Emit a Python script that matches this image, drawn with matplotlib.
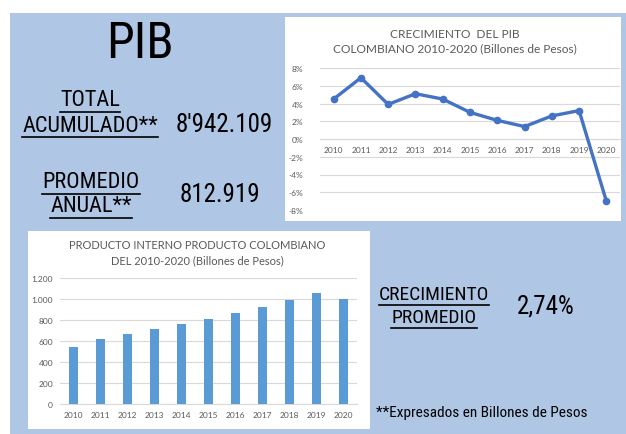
import matplotlib.pyplot as plt
import matplotlib.patches as mpatches
from matplotlib.lines import Line2D
from matplotlib import font_manager
from matplotlib.font_manager import FontProperties
from matplotlib.ticker import FuncFormatter

# data
years = ['2010', '2011', '2012', '2013', '2014', '2015', '2016', '2017', '2018', '2019', '2020']
growth_pct = [4.5, 6.9, 3.9, 5.1, 4.5, 3.0, 2.1, 1.4, 2.6, 3.2, -7.0]
pib_billones = [545, 615, 665, 712, 760, 805, 865, 920, 988, 1060, 998]

growth_ticks = [-8, -6, -4, -2, 0, 2, 4, 6, 8]
pib_ticks = [0, 200, 400, 600, 800, 1000, 1200]

total_acumulado = "8'942.109"
promedio_anual = "812.919"
crecimiento_promedio = "2,74%"

W, H = 626, 435
BLUE_BG = '#afc6e4'
GREY_TXT = '#595959'
GRID = '#d9d9d9'
CHART_FONT = 'Lato'

# look for a narrow face for the hand-lettered headings
narrow_path = None
for key in ['sansnarrow-regular', 'robotocondensed-regular', 'dejavusanscondensed.ttf',
            'notosans-condensed.ttf', 'notosans-condensedmedium', 'condensed', 'narrow']:
    for f in font_manager.fontManager.ttflist:
        if key in f.fname.lower().replace(' ', '').replace('_', '-') and 'bold' not in f.fname.lower() \
                and 'italic' not in f.fname.lower() and 'oblique' not in f.fname.lower():
            narrow_path = f.fname
            break
    if narrow_path:
        break


def nfont(size):
    if narrow_path:
        return FontProperties(fname=narrow_path, size=size)
    return FontProperties(family='DejaVu Sans', size=size)


def fx(px):
    return px / W


def fy(py):
    return 1 - py / H


def box(x0, y0, x1, y1):
    # pixel box (top-left origin) -> figure rect
    return [fx(x0), fy(y1), fx(x1) - fx(x0), fy(y0) - fy(y1)]


fig = plt.figure(figsize=(W / 100, H / 100), dpi=100)
fig.patch.set_facecolor('white')

# background panels
fig.patches.append(mpatches.Rectangle((fx(10), 0), 1 - fx(10), fy(14), transform=fig.transFigure,
                                      facecolor=BLUE_BG, edgecolor='none', zorder=-3))
fig.patches.append(mpatches.Rectangle((fx(285), fy(222)), fx(621) - fx(285), fy(18) - fy(222),
                                      transform=fig.transFigure, facecolor='white', edgecolor='none', zorder=-2))
fig.patches.append(mpatches.Rectangle((fx(28), fy(430)), fx(370) - fx(28), fy(232) - fy(430),
                                      transform=fig.transFigure, facecolor='white', edgecolor='none', zorder=-2))

#-----------------------------------------------------------------------------------------------------------
# line chart: crecimiento del PIB
ax1 = fig.add_axes(box(320, 69, 620, 211))
ax1.set_facecolor('none')
x = range(len(years))
ax1.plot(x, growth_pct, color='#4472c4', lw=2.4, marker='o', ms=4.5, zorder=3, clip_on=False)
ax1.set_xlim(-0.5, len(years) - 0.5)
ax1.set_ylim(-8, 8)
ax1.set_yticks(growth_ticks)
ax1.yaxis.set_major_formatter(FuncFormatter(lambda v, p: f'{v:.0f}%'))
ax1.set_xticks(list(x))
ax1.set_xticklabels(years)
ax1.grid(axis='y', color=GRID, lw=0.8)
ax1.set_axisbelow(True)
for s in ['top', 'right', 'left']:
    ax1.spines[s].set_visible(False)
ax1.spines['bottom'].set_position(('data', 0))
ax1.spines['bottom'].set_color(GRID)
ax1.tick_params(length=0, labelsize=6, labelcolor=GREY_TXT)
ax1.tick_params(axis='x', pad=5)
ax1.tick_params(axis='y', pad=12)
for lab in ax1.get_xticklabels() + ax1.get_yticklabels():
    lab.set_fontfamily(CHART_FONT)

fig.text(fx(455), fy(34), 'CRECIMIENTO  DEL PIB', ha='center', va='center',
         fontsize=8.6, color=GREY_TXT, family=CHART_FONT)
fig.text(fx(455), fy(49), 'COLOMBIANO 2010-2020 (Billones de Pesos)', ha='center', va='center',
         fontsize=8.6, color=GREY_TXT, family=CHART_FONT)

#-----------------------------------------------------------------------------------------------------------
# bar chart: PIB
ax2 = fig.add_axes(box(60, 279, 357, 405))
ax2.set_facecolor('none')
ax2.bar(x, pib_billones, width=0.33, color='#5b9bd5', zorder=3)
ax2.set_xlim(-0.5, len(years) - 0.5)
ax2.set_ylim(0, 1200)
ax2.set_yticks(pib_ticks)
ax2.yaxis.set_major_formatter(FuncFormatter(lambda v, p: f'{v:,.0f}'.replace(',', '.')))
ax2.set_xticks(list(x))
ax2.set_xticklabels(years)
ax2.grid(axis='y', color=GRID, lw=0.8)
ax2.set_axisbelow(True)
for s in ['top', 'right', 'left']:
    ax2.spines[s].set_visible(False)
ax2.spines['bottom'].set_color(GRID)
ax2.tick_params(length=0, labelsize=6, labelcolor=GREY_TXT, pad=5)
for lab in ax2.get_xticklabels() + ax2.get_yticklabels():
    lab.set_fontfamily(CHART_FONT)

fig.text(fx(197), fy(246), 'PRODUCTO INTERNO PRODUCTO COLOMBIANO', ha='center', va='center',
         fontsize=8, color=GREY_TXT, family=CHART_FONT)
fig.text(fx(197), fy(261), 'DEL 2010-2020 (Billones de Pesos)', ha='center', va='center',
         fontsize=8, color=GREY_TXT, family=CHART_FONT)

#-----------------------------------------------------------------------------------------------------------
# headline figures
fig.text(fx(140), fy(44), 'PIB', ha='center', va='center', fontproperties=nfont(36), color='black')

labels = []
labels.append(fig.text(fx(90), fy(101), 'TOTAL', ha='center', va='center', fontproperties=nfont(16)))
labels.append(fig.text(fx(90), fy(126), 'ACUMULADO**', ha='center', va='center', fontproperties=nfont(16)))
labels.append(fig.text(fx(91), fy(183), 'PROMEDIO', ha='center', va='center', fontproperties=nfont(16)))
labels.append(fig.text(fx(91), fy(207), 'ANUAL**', ha='center', va='center', fontproperties=nfont(16)))
labels.append(fig.text(fx(434), fy(295), 'CRECIMIENTO', ha='center', va='center', fontproperties=nfont(14)))
labels.append(fig.text(fx(434), fy(318), 'PROMEDIO', ha='center', va='center', fontproperties=nfont(14)))

fig.text(fx(224), fy(125), total_acumulado, ha='center', va='center', fontproperties=nfont(18))
fig.text(fx(220), fy(195), promedio_anual, ha='center', va='center', fontproperties=nfont(18))
fig.text(fx(546), fy(307), crecimiento_promedio, ha='center', va='center', fontproperties=nfont(18))
fig.text(fx(482), fy(413), '**Expresados en Billones de Pesos', ha='center', va='center',
         fontproperties=nfont(11))

# underline the labels
fig.canvas.draw()
renderer = fig.canvas.get_renderer()
inv = fig.transFigure.inverted()
for t in labels:
    bb = t.get_window_extent(renderer)
    (x0, y0), (x1, y1) = inv.transform([(bb.x0, bb.y0), (bb.x1, bb.y1)])
    fig.add_artist(Line2D([x0, x1], [y0 - 0.004, y0 - 0.004], transform=fig.transFigure,
                          color='black', lw=1.2))

fig.savefig('out.png', dpi=100)
